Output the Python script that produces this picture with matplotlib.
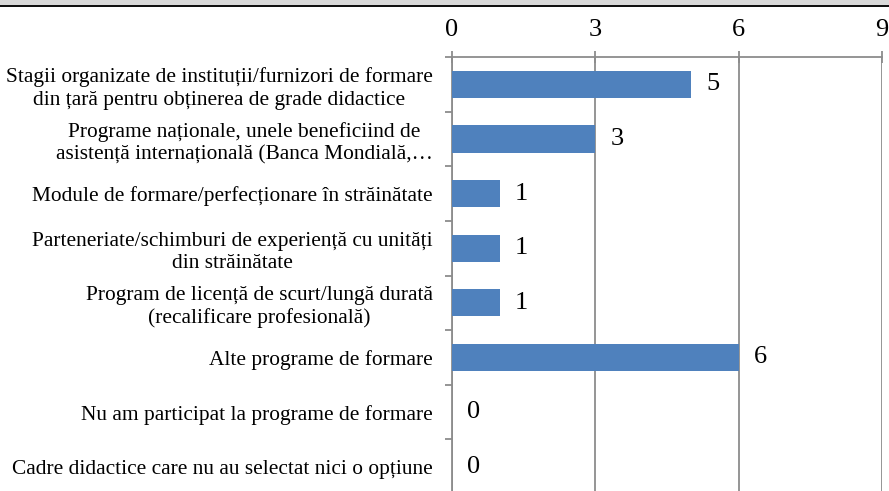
import matplotlib
matplotlib.use('Agg')
import matplotlib.pyplot as plt
from matplotlib.patches import Rectangle

# categories, top to bottom
categories = [
    'Stagii organizate de instituții/furnizori de formare\ndin țară pentru obținerea de grade didactice',
    'Programe naționale, unele beneficiind de\nasistență internațională (Banca Mondială,…',
    'Module de formare/perfecționare în străinătate',
    'Parteneriate/schimburi de experiență cu unități\ndin străinătate',
    'Program de licență de scurt/lungă durată\n(recalificare profesională)',
    'Alte programe de formare',
    'Nu am participat la programe de formare',
    'Cadre didactice care nu au selectat nici o opțiune',
]
values = [5, 3, 1, 1, 1, 6, 0, 0]
xticks = [0, 3, 6, 9]

plt.rcParams['font.family'] = ['Liberation Serif', 'DejaVu Serif']

W, H = 889, 491
fig = plt.figure(figsize=(W / 100, H / 100), dpi=100)

# window-like strip at the top
fig.patches.append(Rectangle((0, 1 - 5 / H), 1, 5 / H, transform=fig.transFigure,
                             facecolor='#d9d9d9', edgecolor='none'))
fig.patches.append(Rectangle((0, 1 - 7 / H), 1, 2 / H, transform=fig.transFigure,
                             facecolor='#111111', edgecolor='none'))

left, right, top, bottom = 452, 882, 57, 494
ax = fig.add_axes([left / W, 1 - bottom / H, (right - left) / W, (bottom - top) / H])

gray = '#8c8c8c'
ypos = list(range(len(categories)))
ax.barh(ypos, values, height=0.5, color='#4f81bd', zorder=3)

for y, v in zip(ypos, values):
    ax.annotate(str(v), (v, y), xytext=(11, 0), textcoords='offset points',
                ha='left', va='center', fontsize=19, zorder=4)

ax.set_xlim(0, 9)
ax.set_ylim(len(categories) - 0.5, -0.5)
ax.xaxis.tick_top()
ax.set_xticks(xticks)
ax.set_xticklabels([str(t) for t in xticks], fontsize=19)
ax.tick_params(axis='x', direction='inout', length=9, width=1.3, color=gray, pad=7)
ax.grid(axis='x', color=gray, linewidth=1.3, zorder=0)

# boundaries get tick marks, centres get labels
ax.set_yticks([i + 0.5 for i in range(-1, len(categories))])
ax.set_yticklabels([])
ax.set_yticks(ypos, minor=True)
ax.set_yticklabels(categories, minor=True, fontsize=15.4, multialignment='center',
                   linespacing=1.25)
ax.tick_params(axis='y', which='major', direction='out', length=5, width=1.3, color=gray)
ax.tick_params(axis='y', which='minor', length=0, pad=14)

for s in ['right', 'bottom']:
    ax.spines[s].set_visible(False)
for s in ['left', 'top']:
    ax.spines[s].set_color(gray)
    ax.spines[s].set_linewidth(1.3)

fig.savefig('out.png', dpi=100)
